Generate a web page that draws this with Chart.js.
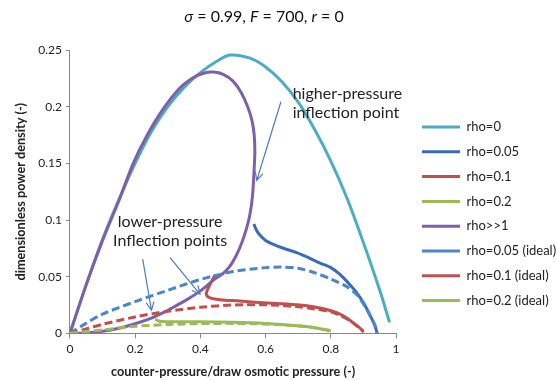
<!DOCTYPE html>
<html>
<head>
<meta charset="utf-8">
<script src="https://cdn.jsdelivr.net/npm/chart.js@4/dist/chart.umd.min.js"></script>
<style>
  body { margin: 0; background: #fff; }
  #wrap { position: relative; width: 556px; height: 380px; }
  #title {
    position: absolute; top: 6px; left: 0; width: 528px;
    text-align: center; font: 16px Lato, sans-serif; color: #111;
  }
</style>
</head>
<body>
<div id="wrap">
  <div id="title"><i>σ</i> = 0.99, <i>F</i> = 700, <i>r</i> = 0</div>
  <canvas id="chart"></canvas>
</div>
<script>
// tick labels
const xTicks = [0, 0.2, 0.4, 0.6, 0.8, 1];
const yTicks = [0, 0.05, 0.1, 0.15, 0.2, 0.25];

// series
const rho0X = [0, 0.05, 0.1, 0.15, 0.2, 0.25, 0.3, 0.35, 0.4, 0.45, 0.49, 0.55, 0.6, 0.65, 0.7, 0.75, 0.8, 0.85, 0.9, 0.95, 0.98];
const rho0Y = [0, 0.043, 0.083, 0.118, 0.150, 0.178, 0.200, 0.217, 0.230, 0.240, 0.2455, 0.243, 0.235, 0.222, 0.204, 0.180, 0.152, 0.119, 0.080, 0.038, 0.0097];

const rho005X = [0.564, 0.572, 0.583, 0.6, 0.624, 0.65, 0.695, 0.73, 0.767, 0.8, 0.828, 0.855, 0.879, 0.9, 0.92, 0.935, 0.942];
const rho005Y = [0.0965, 0.091, 0.0865, 0.082, 0.0785, 0.0755, 0.0712, 0.067, 0.062, 0.058, 0.052, 0.044, 0.036, 0.027, 0.016, 0.007, 0];

const rho01X = [0.445, 0.432, 0.421, 0.418, 0.425, 0.44, 0.46, 0.52, 0.593, 0.65, 0.705, 0.746, 0.787, 0.82, 0.849, 0.87, 0.89, 0.9];
const rho01Y = [0.0515, 0.0445, 0.038, 0.0345, 0.0318, 0.0305, 0.0297, 0.0285, 0.027, 0.0262, 0.025, 0.0235, 0.021, 0.018, 0.0135, 0.009, 0.0045, 0.001];

const rho02X = [0.261, 0.275, 0.3, 0.4, 0.5, 0.6, 0.7, 0.75, 0.8];
const rho02Y = [0.0124, 0.0106, 0.0102, 0.0102, 0.0098, 0.0088, 0.0068, 0.005, 0.0022];

const rhoInfX = [0, 0.05, 0.1, 0.15, 0.194, 0.235, 0.286, 0.337, 0.38, 0.41, 0.44, 0.47, 0.5, 0.525, 0.545, 0.558, 0.565, 0.567, 0.565, 0.56, 0.552, 0.542, 0.527, 0.511, 0.49, 0.47, 0.44, 0.4, 0.36, 0.32, 0.286, 0.25, 0.2, 0.15, 0.1, 0.05, 0];
const rhoInfY = [0, 0.043, 0.082, 0.117, 0.150, 0.174, 0.198, 0.2165, 0.226, 0.2295, 0.2305, 0.2285, 0.2225, 0.2125, 0.200, 0.188, 0.175, 0.160, 0.146, 0.122, 0.105, 0.093, 0.080, 0.0694, 0.059, 0.053, 0.047, 0.0375, 0.030, 0.0235, 0.0183, 0.0135, 0.0085, 0.0045, 0.0018, 0.0004, 0];

const ideal005X = [0, 0.05, 0.1, 0.2, 0.3, 0.4, 0.5, 0.6, 0.65, 0.7, 0.75, 0.8, 0.85, 0.88, 0.9, 0.92, 0.935, 0.942];
const ideal005Y = [0, 0.009, 0.017, 0.028, 0.038, 0.0475, 0.0545, 0.058, 0.0585, 0.0575, 0.0535, 0.048, 0.041, 0.034, 0.026, 0.016, 0.007, 0];

const ideal01X = [0, 0.05, 0.1, 0.2, 0.3, 0.4, 0.5, 0.6, 0.7, 0.75, 0.8, 0.83, 0.86, 0.88, 0.9];
const ideal01Y = [0, 0.004, 0.008, 0.0145, 0.0195, 0.023, 0.025, 0.0252, 0.0235, 0.0215, 0.019, 0.0155, 0.011, 0.0065, 0.002];

const ideal02X = [0, 0.05, 0.1, 0.2, 0.3, 0.4, 0.5, 0.6, 0.7, 0.75, 0.8];
const ideal02Y = [0, 0.0015, 0.003, 0.0062, 0.0078, 0.0086, 0.0088, 0.0082, 0.0065, 0.005, 0.0022];

const pts = (xs, ys) => xs.map((x, i) => ({x, y: ys[i]}));

const FONT = 'Lato, sans-serif';
const DASH = [8, 4];
const LEG_FONT = 13;
const LEG_PAD = 11.8;

function series(label, xs, ys, color, dashed, order) {
  return {
    label,
    data: pts(xs, ys),
    borderColor: color,
    backgroundColor: color,
    borderWidth: 3,
    borderDash: dashed ? DASH : [],
    showLine: true,
    pointRadius: 0,
    tension: 0.3,
    order
  };
}

// annotation text + arrows, positioned in data units
const notes = {
  id: 'notes',
  afterDatasetsDraw(chart) {
    const {ctx, scales: {x, y}} = chart;
    const arrow = (x0, y0, x1, y1) => {
      const ax = x.getPixelForValue(x0), ay = y.getPixelForValue(y0);
      const bx = x.getPixelForValue(x1), by = y.getPixelForValue(y1);
      const a = Math.atan2(by - ay, bx - ax);
      const L = 9, w = 0.45;
      ctx.beginPath();
      ctx.moveTo(ax, ay);
      ctx.lineTo(bx, by);
      ctx.moveTo(bx - L * Math.cos(a - w), by - L * Math.sin(a - w));
      ctx.lineTo(bx, by);
      ctx.lineTo(bx - L * Math.cos(a + w), by - L * Math.sin(a + w));
      ctx.stroke();
    };
    ctx.save();
    ctx.strokeStyle = '#4a7ebb';
    ctx.lineWidth = 1.2;
    arrow(0.647, 0.2043, 0.5727, 0.1349);
    arrow(0.223, 0.0655, 0.250, 0.0204);
    arrow(0.307, 0.0669, 0.399, 0.0345);

    ctx.fillStyle = '#222';
    ctx.font = '16px ' + FONT;
    ctx.textBaseline = 'middle';
    ctx.textAlign = 'left';
    ctx.fillText('higher-pressure', x.getPixelForValue(0.683), y.getPixelForValue(0.2117));
    ctx.fillText('inflection point', x.getPixelForValue(0.683), y.getPixelForValue(0.1945));
    ctx.textAlign = 'center';
    ctx.fillText('lower-pressure', x.getPixelForValue(0.307), y.getPixelForValue(0.098));
    ctx.fillText('Inflection points', x.getPixelForValue(0.307), y.getPixelForValue(0.0818));
    ctx.restore();
  }
};

// move the legend box to where the original has it
const legendNudge = {
  id: 'legendNudge',
  afterLayout(chart) {
    const lg = chart.legend;
    const dx = 422 - (lg.left + LEG_PAD);
    const dy = 127 - (lg.top + LEG_PAD + LEG_FONT / 2);
    lg.left += dx; lg.right += dx;
    lg.top += dy; lg.bottom += dy + 60;
  }
};

new Chart(document.getElementById('chart'), {
  type: 'scatter',
  data: {
    datasets: [
      series('rho=0', rho0X, rho0Y, '#4bacc6', false, 9),
      series('rho=0.05', rho005X, rho005Y, '#3a6cb5', false, 8),
      series('rho=0.1', rho01X, rho01Y, '#c0504d', false, 7),
      series('rho=0.2', rho02X, rho02Y, '#9bbb59', false, 6),
      series('rho>>1', rhoInfX, rhoInfY, '#7f5fa8', false, 5),
      series('rho=0.05 (ideal)', ideal005X, ideal005Y, '#4a86c8', true, 4),
      series('rho=0.1 (ideal)', ideal01X, ideal01Y, '#c0504d', true, 3),
      series('rho=0.2 (ideal)', ideal02X, ideal02Y, '#9bbb59', true, 2)
    ]
  },
  options: {
    responsive: true,
    maintainAspectRatio: false,
    animation: false,
    layout: {
      padding: {top: 50, left: 13, right: 4, bottom: 0}
    },
    scales: {
      x: {
        type: 'linear',
        min: 0,
        max: 1,
        afterBuildTicks: axis => { axis.ticks = xTicks.map(v => ({value: v})); },
        ticks: {
          font: {family: FONT, size: 12},
          color: '#222',
          padding: 4,
          callback: v => String(v)
        },
        grid: {drawOnChartArea: false, drawTicks: true, tickLength: 5, color: '#888'},
        border: {color: '#888'},
        title: {
          display: true,
          text: 'counter-pressure/draw osmotic pressure (-)',
          font: {family: FONT, size: 12.7, weight: 'bold'},
          color: '#222',
          padding: {top: 4, bottom: 0}
        }
      },
      y: {
        type: 'linear',
        min: 0,
        max: 0.25,
        afterBuildTicks: axis => { axis.ticks = yTicks.map(v => ({value: v})); },
        ticks: {
          font: {family: FONT, size: 12},
          color: '#222',
          padding: 4,
          callback: v => String(v)
        },
        grid: {drawOnChartArea: false, drawTicks: true, tickLength: 4, color: '#888'},
        border: {color: '#888'},
        title: {
          display: true,
          text: 'dimensionless power density (-)',
          font: {family: FONT, size: 12.7, weight: 'bold'},
          color: '#222',
          padding: {top: 0, bottom: 6}
        }
      }
    },
    plugins: {
      legend: {
        position: 'right',
        align: 'start',
        fullSize: false,
        maxWidth: 160,
        labels: {
          usePointStyle: true,
          pointStyle: 'line',
          pointStyleWidth: 38,
          boxHeight: LEG_FONT,
          padding: LEG_PAD,
          color: '#222',
          font: {family: FONT, size: LEG_FONT},
          sort: (a, b) => a.datasetIndex - b.datasetIndex
        }
      },
      tooltip: {enabled: false}
    }
  },
  plugins: [notes, legendNudge]
});
</script>
</body>
</html>
